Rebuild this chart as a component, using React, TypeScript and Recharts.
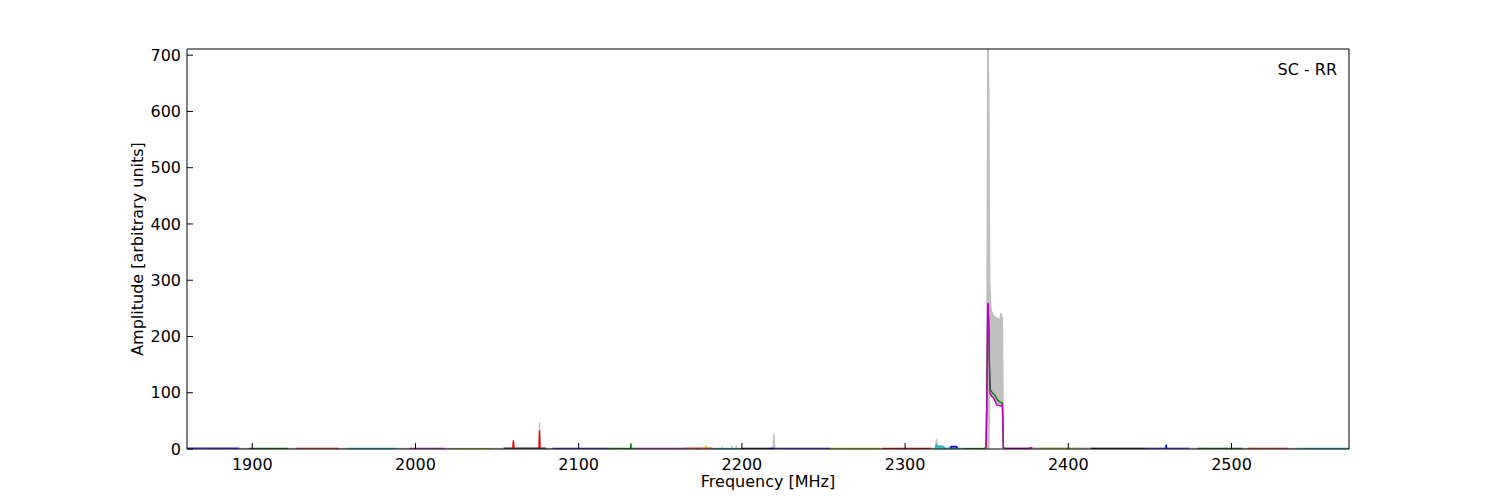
import { ComposedChart, Line, Area, XAxis, YAxis } from 'recharts';

const X_TICKS = [1900, 2000, 2100, 2200, 2300, 2400, 2500];
const Y_TICKS = [0, 100, 200, 300, 400, 500, 600, 700];

// sub-band sweeps: flat baseline level of each one
const BAND_START = [1860, 1898, 1927, 1958, 1996, 2023, 2054, 2084, 2118, 2135, 2165, 2182, 2200, 2217, 2254, 2286, 2316, 2336, 2383, 2414, 2447, 2479, 2510, 2540];
const BAND_END = [1892, 1922, 1953, 1988, 2018, 2047, 2080, 2118, 2135, 2165, 2182, 2200, 2220, 2254, 2284, 2316, 2336, 2349, 2405, 2447, 2474, 2507, 2535, 2572];
const BAND_LEVEL = [1.5, 1.2, 1.4, 1.2, 1.3, 1.0, 1.5, 1.3, 1.2, 1.4, 1.6, 1.0, 1.2, 1.4, 1.1, 1.2, 1.3, 1.0, 1.2, 1.1, 1.4, 1.2, 1.3, 1.2];
const BAND_COLORS = ['#0000ff', '#008000', '#ff0000', '#00bfbf', '#bf00bf', '#bfbf00', '#000000', '#0000ff', '#008000', '#bf00bf', '#ff0000', '#00bfbf', '#000000', '#0000ff', '#bfbf00', '#ff0000', '#00bfbf', '#008000', '#bfbf00', '#000000', '#0000ff', '#008000', '#ff0000', '#00bfbf'];

// max hold trace (grey), low / high envelope
const MAX_FREQ = [1860, 2059.5, 2060, 2060.5, 2075.5, 2076, 2076.5, 2177.4, 2178, 2178.6, 2187.6, 2188, 2188.4, 2193.6, 2194, 2194.4, 2196.1, 2196.5, 2196.9, 2219, 2219.6, 2220.2, 2318.6, 2319.2, 2319.8, 2321, 2323, 2324.5, 2325.5, 2328.5, 2329.2, 2331, 2331.8, 2349.4, 2350, 2350.6, 2351.0, 2351.4, 2351.9, 2352.4, 2353, 2354, 2355, 2356, 2357, 2358, 2358.6, 2359.2, 2359.7, 2360.3, 2572];
const MAX_LOW = [0, 0, 0, 0, 0, 0, 0, 0, 0, 0, 0, 0, 0, 0, 0, 0, 0, 0, 0, 0, 0, 0, 0, 0, 0, 0, 0, 0, 0, 0, 0, 0, 0, 0, 0, 0, 0, 0, 100, 97, 93, 90, 86, 80, 78, 77, 76, 76, 77, 0, 0];
const MAX_HIGH = [1, 1, 16, 1, 1, 48, 1, 1, 5, 1, 1, 3, 1, 1, 5, 1, 1, 6, 1, 1, 27, 1, 1, 18, 7, 6, 6, 1, 1, 6, 6, 6, 1, 1, 80, 710, 710, 620, 300, 260, 245, 238, 235, 233, 232, 228, 242, 236, 230, 2, 1];

// main carrier, green and magenta sweeps
const PEAK_G_FREQ = [2349, 2349.7, 2350.2, 2350.7, 2351.2, 2351.7, 2352.3, 2353, 2354, 2355, 2356, 2357, 2358, 2359, 2359.6, 2360.2, 2361];
const PEAK_G_AMP = [1, 5, 130, 248, 230, 150, 105, 102, 98, 96, 90, 86, 84, 82, 82, 3, 1];
const PEAK_M_FREQ = [2349, 2349.6, 2350.1, 2350.6, 2351.0, 2351.4, 2351.9, 2352.5, 2353.2, 2354, 2355, 2355.6, 2356.2, 2357, 2358, 2359, 2359.6, 2360.2, 2361, 2370, 2376, 2377, 2378];
const PEAK_M_AMP = [1, 4, 90, 255, 260, 200, 100, 97, 93, 92, 86, 82, 78, 78, 77, 76, 78, 3, 1, 1, 1, 2.5, 1];

// narrow spikes
const RED_SPIKE_FREQ = [2059.7, 2060, 2060.3, 2068, 2075.7, 2076, 2076.3];
const RED_SPIKE_AMP = [1, 15, 1, null, 1, 33, 1];
const GREEN_SPIKE_FREQ = [2131.8, 2132, 2132.2];
const GREEN_SPIKE_AMP = [1, 10, 1];
const YELLOW_BUMP_FREQ = [2175, 2177, 2178, 2179];
const YELLOW_BUMP_AMP = [1, 2, 4, 1];
const CYAN_BUMP_FREQ = [2318.6, 2319.1, 2319.6, 2320.2, 2322, 2324, 2324.6];
const CYAN_BUMP_AMP = [1, 7, 5, 4, 4, 3, 1];
const BLUE_BUMP_FREQ = [2327.8, 2328.4, 2330, 2331.6, 2332.2, 2400, 2459.8, 2460, 2460.2];
const BLUE_BUMP_AMP = [1, 4, 4, 4, 1, null, 1, 8, 1];

const toPoints = (freq: number[], amp: (number | null)[]) => freq.map((f, i) => ({ f, v: amp[i] }));

const bands = BAND_START.map((s, i) => ({
  color: BAND_COLORS[i],
  points: [
    { f: s, v: BAND_LEVEL[i] },
    { f: BAND_END[i], v: BAND_LEVEL[i] },
  ],
}));

const maxData = MAX_FREQ.map((f, i) => ({ f, v: [MAX_LOW[i], MAX_HIGH[i]] }));

const overlays = [
  { color: '#008000', points: toPoints(PEAK_G_FREQ, PEAK_G_AMP) },
  { color: '#bf00bf', points: toPoints(PEAK_M_FREQ, PEAK_M_AMP) },
  { color: '#ff0000', points: toPoints(RED_SPIKE_FREQ, RED_SPIKE_AMP) },
  { color: '#008000', points: toPoints(GREEN_SPIKE_FREQ, GREEN_SPIKE_AMP) },
  { color: '#bfbf00', points: toPoints(YELLOW_BUMP_FREQ, YELLOW_BUMP_AMP) },
  { color: '#00bfbf', points: toPoints(CYAN_BUMP_FREQ, CYAN_BUMP_AMP) },
  { color: '#0000ff', points: toPoints(BLUE_BUMP_FREQ, BLUE_BUMP_AMP) },
];

const FONT = 'DejaVu Sans, sans-serif';
const tickStyle = { fill: '#000', fontSize: 16, fontFamily: FONT };

export default function App() {
  return (
    <div style={{ position: 'absolute', left: 0, top: 0, width: 1500, height: 500, background: '#fff', fontFamily: FONT }}>
      <ComposedChart width={1500} height={500} margin={{ top: 48, right: 150, bottom: 11, left: 127 }}>
        <XAxis
          xAxisId="bottom"
          dataKey="f"
          type="number"
          domain={[1860, 2572]}
          ticks={X_TICKS}
          allowDataOverflow
          height={40}
          stroke="#000"
          tickSize={-6}
          tickMargin={16}
          tick={tickStyle}
          label={{ value: 'Frequency [MHz]', position: 'insideBottom', offset: 2, fill: '#000', fontSize: 16, fontFamily: FONT }}
        />
        <XAxis
          xAxisId="top"
          orientation="top"
          dataKey="f"
          type="number"
          domain={[1860, 2572]}
          ticks={X_TICKS}
          allowDataOverflow
          height={1}
          stroke="#000"
          tickSize={-6}
          tick={false}
        />
        <YAxis
          yAxisId="left"
          type="number"
          domain={[0, 711]}
          ticks={Y_TICKS}
          allowDataOverflow
          width={60}
          stroke="#000"
          tickSize={-6}
          tickMargin={12}
          tick={tickStyle}
          label={{ value: 'Amplitude [arbitrary units]', angle: -90, position: 'insideLeft', offset: 10, fill: '#000', fontSize: 16, fontFamily: FONT, style: { textAnchor: 'middle' } }}
        />
        <YAxis
          yAxisId="right"
          orientation="right"
          type="number"
          domain={[0, 711]}
          ticks={Y_TICKS}
          allowDataOverflow
          width={1}
          stroke="#000"
          tickSize={-6}
          tick={false}
        />
        <Area
          xAxisId="bottom"
          yAxisId="left"
          data={maxData}
          dataKey="v"
          type="linear"
          stroke="#bfbfbf"
          strokeWidth={1.2}
          fill="#bfbfbf"
          fillOpacity={1}
          dot={false}
          activeDot={false}
          isAnimationActive={false}
        />
        {bands.map((b, i) => (
          <Line
            key={'band' + i}
            xAxisId="bottom"
            yAxisId="left"
            data={b.points}
            dataKey="v"
            type="linear"
            stroke={b.color}
            strokeWidth={1.1}
            strokeOpacity={0.8}
            dot={false}
            activeDot={false}
            isAnimationActive={false}
          />
        ))}
        {overlays.map((o, i) => (
          <Line
            key={'ov' + i}
            xAxisId="bottom"
            yAxisId="left"
            data={o.points}
            dataKey="v"
            type="linear"
            stroke={o.color}
            strokeWidth={1.4}
            dot={false}
            activeDot={false}
            isAnimationActive={false}
          />
        ))}
      </ComposedChart>
      <div style={{ position: 'absolute', right: 163, top: 60, fontSize: 16, color: '#000', lineHeight: '20px' }}>SC - RR</div>
    </div>
  );
}
